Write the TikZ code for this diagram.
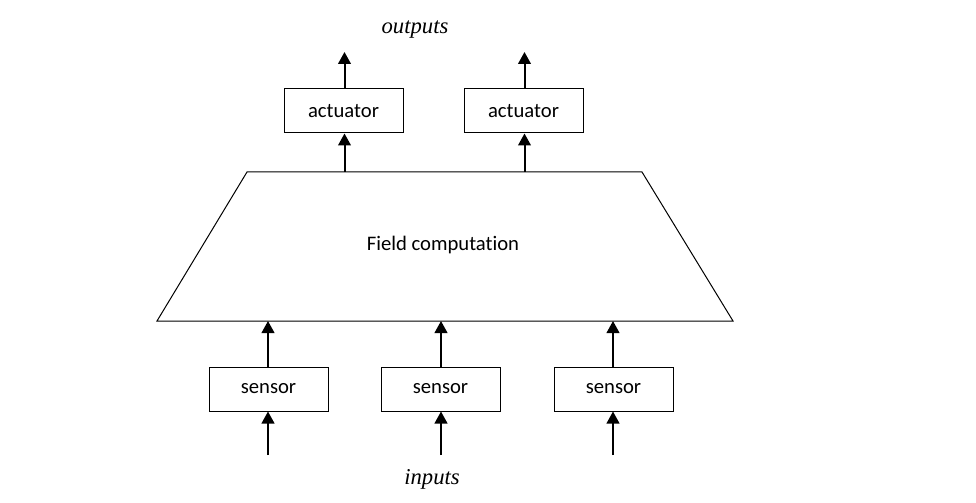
\documentclass[tikz,border=0pt]{standalone}
\usepackage{fontspec}
\setmainfont[Ligatures=NoCommon]{Carlito}
\newfontfamily\serifit{Liberation Serif}
\usetikzlibrary{arrows.meta}
\begin{document}
\begin{tikzpicture}[x=0.75pt,y=-0.75pt,
  blk/.style={draw,line width=0.75pt,minimum width=119*0.75pt,minimum height=44*0.75pt,inner sep=0pt,font=\fontsize{15.5}{18}\selectfont},
  arr/.style={line width=1.5pt,-{Triangle[length=9pt,width=9.5pt]}},
  lbl/.style={font=\serifit\itshape\fontsize{17}{20}\selectfont}]
\useasboundingbox (0,0) rectangle (976,503);
% trapezoid
\coordinate (tl) at (247,172);
\coordinate (tr) at (642,172);
\coordinate (br) at (733,321);
\coordinate (bl) at (157,321);
\draw[line width=0.75pt] (tl) -- (tr) -- (br) -- (bl) -- cycle;
\node[font=\fontsize{15.5}{18}\selectfont] (fc) at (443,245) {Field computation};
% actuators
\node[blk] (a1) at (343.5,111) {actuator};
\node[blk] (a2) at (523.5,111) {actuator};
% sensors
\node[blk] (s1) at (268.5,389) {sensor};
\node[blk] (s2) at (440.5,389) {sensor};
\node[blk] (s3) at (613.5,389) {sensor};
% coordinates
\coordinate (o1) at (344.5,52);
\coordinate (o2) at (524.5,52);
\coordinate (t1) at (344.5,172);
\coordinate (t2) at (524.5,172);
\coordinate (b1) at (268,321);
\coordinate (b2) at (441,321);
\coordinate (b3) at (613,321);
\coordinate (i1) at (268,455);
\coordinate (i2) at (441,455);
\coordinate (i3) at (613,455);
% arrows
\draw[arr] (a1.north -| o1) -- (o1);
\draw[arr] (a2.north -| o2) -- (o2);
\draw[arr] (t1) -- (a1.south -| t1);
\draw[arr] (t2) -- (a2.south -| t2);
\draw[arr] (s1.north -| b1) -- (b1);
\draw[arr] (s2.north -| b2) -- (b2);
\draw[arr] (s3.north -| b3) -- (b3);
\draw[arr] (i1) -- (s1.south -| i1);
\draw[arr] (i2) -- (s2.south -| i2);
\draw[arr] (i3) -- (s3.south -| i3);
% labels
\node[lbl] (out) at (415,30) {outputs};
\node[lbl] (in) at (432,479) {inputs};
\end{tikzpicture}
\end{document}
